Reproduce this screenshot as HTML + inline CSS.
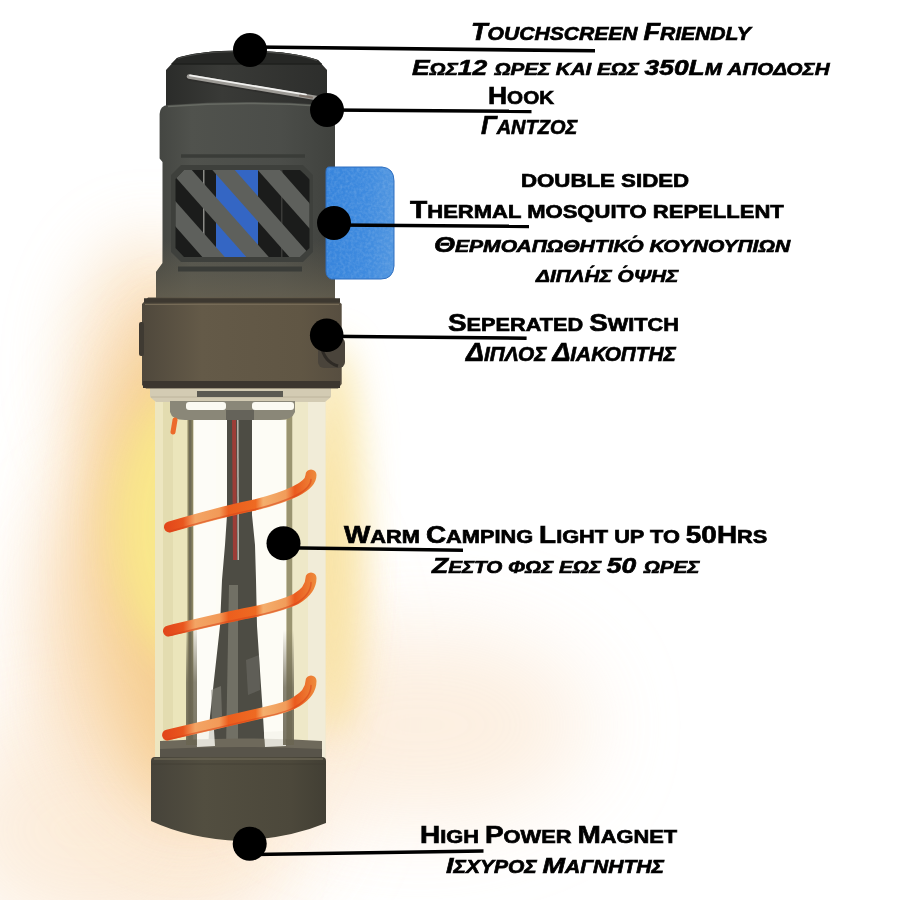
<!DOCTYPE html>
<html><head><meta charset="utf-8">
<style>
html,body{margin:0;padding:0;background:#fff;}
body{width:900px;height:900px;position:relative;overflow:hidden;font-family:"Liberation Sans",sans-serif;}
.t{position:absolute;white-space:nowrap;font-weight:bold;color:#000;line-height:1;transform-origin:0 0;-webkit-text-stroke:0.65px #000;}
.i{font-style:italic;}
.s{font-size:0.78em;}
.acc{position:relative;}
.acc::after{content:"\00B4";position:absolute;left:0.3em;top:0.03em;font-size:0.8em;font-style:normal;}
svg{position:absolute;left:0;top:0;}
</style></head>
<body>
<svg width="900" height="900" viewBox="0 0 900 900">
<defs>
  <filter id="b45" x="-60%" y="-60%" width="220%" height="220%"><feGaussianBlur stdDeviation="45"/></filter>
  <filter id="b28" x="-60%" y="-60%" width="220%" height="220%"><feGaussianBlur stdDeviation="28"/></filter>
  <filter id="b20" x="-60%" y="-60%" width="220%" height="220%"><feGaussianBlur stdDeviation="20"/></filter>
  <filter id="b18" x="-60%" y="-60%" width="220%" height="220%"><feGaussianBlur stdDeviation="18"/></filter>
  <filter id="b35" x="-60%" y="-60%" width="220%" height="220%"><feGaussianBlur stdDeviation="35"/></filter>
  <filter id="b22" x="-60%" y="-60%" width="220%" height="220%"><feGaussianBlur stdDeviation="22"/></filter>
  <filter id="b12" x="-60%" y="-60%" width="220%" height="220%"><feGaussianBlur stdDeviation="12"/></filter>
  <filter id="b1"><feGaussianBlur stdDeviation="0.8"/></filter>
  <linearGradient id="capG" x1="0" x2="1"><stop offset="0" stop-color="#2b2c2a"/><stop offset="0.35" stop-color="#393a37"/><stop offset="1" stop-color="#2d2e2c"/></linearGradient>
  <linearGradient id="bodyG" x1="0" x2="1"><stop offset="0" stop-color="#434541"/><stop offset="0.2" stop-color="#50524d"/><stop offset="0.7" stop-color="#4b4d49"/><stop offset="1" stop-color="#40423e"/></linearGradient>
  <linearGradient id="ringG" x1="0" x2="1"><stop offset="0" stop-color="#4f483c"/><stop offset="0.3" stop-color="#645a48"/><stop offset="0.8" stop-color="#605644"/><stop offset="1" stop-color="#574e40"/></linearGradient>
  <linearGradient id="baseG" x1="0" x2="1"><stop offset="0" stop-color="#46433a"/><stop offset="0.3" stop-color="#524e40"/><stop offset="0.8" stop-color="#4c483b"/><stop offset="1" stop-color="#423f34"/></linearGradient>
  <linearGradient id="rodG" x1="0" x2="1"><stop offset="0" stop-color="#5b5b55"/><stop offset="0.35" stop-color="#7a7a72"/><stop offset="0.5" stop-color="#56564f"/><stop offset="1" stop-color="#4a4a44"/></linearGradient>
  <linearGradient id="wireG" x1="0" y1="0" x2="0" y2="1"><stop offset="0" stop-color="#e8e8e8"/><stop offset="0.5" stop-color="#a9a9a9"/><stop offset="1" stop-color="#555"/></linearGradient>
  <clipPath id="ventClip"><path d="M175.5 179 L184 170 L300 170 L309.5 179 L309.5 248 L300 257 L184 257 L175.5 248 Z"/></clipPath>
</defs>
<!-- glow -->
<ellipse cx="150" cy="640" rx="60" ry="170" fill="#f4c07c" opacity="0.55" filter="url(#b28)"/>
<ellipse cx="150" cy="370" rx="75" ry="130" fill="#f8d9b0" opacity="0.7" filter="url(#b35)"/>
<ellipse cx="185" cy="700" rx="160" ry="230" fill="#fbe6cf" opacity="0.85" filter="url(#b45)"/>
<ellipse cx="90" cy="830" rx="150" ry="110" fill="#fcebd8" opacity="0.8" filter="url(#b45)"/>
<ellipse cx="420" cy="725" rx="170" ry="95" fill="#fcebd9" opacity="0.8" filter="url(#b45)"/>
<ellipse cx="185" cy="575" rx="135" ry="250" fill="#f9ddb5" opacity="0.8" filter="url(#b35)"/>
<ellipse cx="200" cy="550" rx="100" ry="250" fill="#f5cb8c" opacity="0.85" filter="url(#b28)"/>
<ellipse cx="212" cy="525" rx="98" ry="150" fill="#f9e98a" opacity="0.95" filter="url(#b20)"/>
<ellipse cx="335" cy="540" rx="30" ry="200" fill="#f8e29c" opacity="0.8" filter="url(#b18)"/>
<!-- top cap -->
<path d="M166 110 L166 70 L177 58 Q200 50.5 240 50.5 Q292 50.5 318 60 L327 70 L327 110 Z" fill="url(#capG)"/>
<path d="M177 58 Q200 50.5 240 50.5 Q292 50.5 318 60 L322 64 L171 64 Z" fill="#262725"/>
<path d="M178 58.5 Q200 51.5 240 51.5 Q292 51.5 317 60.5" stroke="#4a4b48" stroke-width="1.2" fill="none"/>
<path d="M172 64 L321.5 64" stroke="#1f201e" stroke-width="1.5"/>
<!-- hook wire -->
<path d="M189 77.2 L318 98.8" stroke="#2e2e2c" stroke-width="6.5" stroke-linecap="round"/>
<path d="M189 76.6 L318 98.2" stroke="#9d9b96" stroke-width="4.6" stroke-linecap="round"/>
<path d="M190 75.4 L306 94.6" stroke="#f3f3f1" stroke-width="1.8" stroke-linecap="round"/>
<path d="M300 95.5 L312 97.5" stroke="#6a5a50" stroke-width="2" stroke-linecap="round" opacity="0.6"/>
<!-- upper body -->
<path d="M156 302 L156 272 L162.5 263 L162.5 162 L159.6 158.5 L159.6 114 Q160 105.5 168 105 Q247 99 326 105 Q334.5 105.5 335 114 L335 302 Z" fill="url(#bodyG)"/>
<path d="M168 106.5 Q247 100.5 326 106.5" stroke="#676a63" stroke-width="1.5" fill="none"/>
<defs><linearGradient id="warmG" x1="0" y1="0" x2="0" y2="1"><stop offset="0" stop-color="#6b6452" stop-opacity="0"/><stop offset="1" stop-color="#6b6452" stop-opacity="0.75"/></linearGradient></defs>
<path d="M156 302 L156 272 L162.5 263 L162.5 240 L335 240 L335 302 Z" fill="url(#warmG)"/>
<!-- grooves -->
<path d="M181 156 L305 156" stroke="#3a3c38" stroke-width="3.5"/>
<path d="M178 269 L302 269" stroke="#3a3c38" stroke-width="5"/>
<!-- vent window -->
<path d="M171 175 L181 165 L303 165 L313 175 L313 252 L303 262 L181 262 L171 252 Z" fill="#3e403c"/>
<path d="M175.5 179 L184 170 L300 170 L309.5 179 L309.5 248 L300 257 L184 257 L175.5 248 Z" fill="#1b1c1b"/>
<g clip-path="url(#ventClip)">
  <rect x="216" y="165" width="42" height="95" fill="#3466c4"/>
  <rect x="203" y="165" width="1.5" height="95" fill="#8a8a86"/>
  <rect x="281" y="165" width="1.5" height="95" fill="#3a3a38"/>
  <g stroke="#5e605c" stroke-width="16.8">
    <path d="M47.0 68.8 L247.0 294.8"/>
    <path d="M91.0 68.8 L291.0 294.8"/>
    <path d="M134.0 68.8 L334.0 294.8"/>
    <path d="M179.4 68.8 L379.4 294.8"/>
    <path d="M223.0 68.8 L423.0 294.8"/>
  </g>
</g>
<!-- blue pad -->
<defs>
<linearGradient id="padG" x1="0" x2="1"><stop offset="0" stop-color="#3684dc"/><stop offset="0.6" stop-color="#3f8bdf"/><stop offset="1" stop-color="#5196e0"/></linearGradient>
<filter id="noise" x="0" y="0" width="100%" height="100%"><feTurbulence type="fractalNoise" baseFrequency="0.35" numOctaves="2" seed="3"/><feColorMatrix type="matrix" values="0 0 0 0 1  0 0 0 0 1  0 0 0 0 1  0 0 0 0.9 -0.3"/></filter>
<clipPath id="padClip"><path d="M329 167 L382 167 Q394 168 394 181 L394 266 Q393 279 381 279 L331 279 Q326 277 326 271 L326 172 Q326 167 329 167 Z"/></clipPath>
</defs>
<path d="M329 167 L382 167 Q394 168 394 181 L394 266 Q393 279 381 279 L331 279 Q326 277 326 271 L326 172 Q326 167 329 167 Z" fill="url(#padG)"/>
<rect x="320" y="160" width="80" height="125" filter="url(#noise)" clip-path="url(#padClip)" opacity="0.28"/>
<path d="M329 167 L382 167 Q394 168 394 181 L394 266 Q393 279 381 279 L331 279 Q326 277 326 271 L326 172 Q326 167 329 167 Z" fill="none" stroke="#2f6fc0" stroke-width="1"/>
<!-- glass tube -->
<g>
  <rect x="155" y="386" width="170.5" height="372" fill="#ebe5c4"/>
  <rect x="155" y="386" width="8" height="372" fill="#ede6c0"/><rect x="163" y="400" width="10" height="358" fill="#e3dcb0"/>
  <rect x="173" y="400" width="15" height="358" fill="#ebe5bb"/>
  <rect x="187.5" y="400" width="6" height="358" fill="#8a8462"/>
  <rect x="189" y="420" width="2.5" height="330" fill="#6e6a55"/>
  <rect x="193.5" y="420" width="34" height="330" fill="#fdfcf5"/>
  <rect x="250" y="420" width="36.5" height="330" fill="#fdfcf5"/>
  <rect x="286.5" y="400" width="6" height="358" fill="#9a9470"/>
  <rect x="292.5" y="400" width="15.5" height="358" fill="#eee8c8"/>
  <rect x="308" y="386" width="17.5" height="372" fill="#f1ecd8"/>
  <!-- central rod -->
  <rect x="196" y="420" width="20" height="330" fill="#fdfcf7"/>
  <path d="M227 412 L252 412 L252 515 L255 545 L256 580 L257 626 L263 716 L265 750 L208 750 L210 716 L220 626 L222 580 L225 545 L227 515 Z" fill="#4d4c44"/>
  <path d="M229 585 L238 585 L238 750 L226 750 Z" fill="#8a887c" opacity="0.6"/>
  <path d="M211 690 L221 686 L222 716 L212 720 Z" fill="#8c8a80" opacity="0.5"/>
  <path d="M246 660 L259 655 L260 690 L248 695 Z" fill="#6d6b64" opacity="0.6"/>
  <path d="M232 412 L236 412 L237 560 L233 560 Z" fill="#b23a34" opacity="0.8"/>
  <path d="M237 412 L238.5 412 L239 560 L237.5 560 Z" fill="#e8e4dc" opacity="0.7"/>
  <!-- top collar -->
  <path d="M150 388 L331 388 L331 397 L325 402 L156 402 L150 397 Z" fill="#d3cbb3"/>
  <path d="M151 397 L330 397" stroke="#bdb49c" stroke-width="1"/>
  <rect x="197" y="391" width="86" height="6" fill="#5c5a52"/>
  <path d="M170 401 L295 401 L295 412 Q292 420 280 420 L185 420 Q172 420 170 412 Z" fill="#8a8778"/>
  <rect x="186" y="402" width="40" height="8" rx="3" fill="#fbfaf2"/>
  <rect x="252" y="402" width="42" height="8" rx="3" fill="#fbfaf2"/>
  <rect x="226" y="410" width="28" height="10" fill="#65635a"/>
  <!-- bottom inner ring -->
  <path d="M160 741 Q240 736 322 741 L322 758 L160 758 Z" fill="#6e695b"/>
  <path d="M160 749 Q240 745 322 749 L322 758 L160 758 Z" fill="#58544a"/>
  <path d="M196 731 L214 730 L215 746 L197 747 Z" fill="#f6f4ec" opacity="0.85"/>
  <path d="M264 732 L285 731 L286 746 L265 747 Z" fill="#f6f4ec" opacity="0.85"/>
  <defs><linearGradient id="fadeD" x1="0" y1="0" x2="0" y2="1"><stop offset="0" stop-color="#6a6552" stop-opacity="0"/><stop offset="0.5" stop-color="#6a6552" stop-opacity="0.8"/><stop offset="1" stop-color="#6a6552" stop-opacity="0.9"/></linearGradient></defs>
  <rect x="186" y="620" width="11" height="125" fill="url(#fadeD)"/>
  <rect x="283" y="630" width="11" height="115" fill="url(#fadeD)"/>
</g>
<!-- switch ring -->
<path d="M142 385 L142 304 L148 297.5 L334 297.5 L341.7 304 L341.7 384 L338 388.5 L146 388.5 Z" fill="url(#ringG)"/>
<path d="M144 300.5 L340 300.5" stroke="#3d3830" stroke-width="4.5"/>
<path d="M145 304.5 L339 304.5" stroke="#766b57" stroke-width="1.2"/>
<path d="M143 384.5 L340 384.5" stroke="#3c362f" stroke-width="7"/>
<rect x="139" y="322" width="5" height="34" rx="2" fill="#3f3a32"/>
<rect x="318" y="337" width="27" height="31" rx="6" fill="#4a443b"/>
<path d="M321 345 Q324 362 338 366" stroke="#2e2a25" stroke-width="3" fill="none"/>
<!-- spiral -->
<defs>
<linearGradient id="bandG" gradientUnits="userSpaceOnUse" x1="165" y1="0" x2="316" y2="0">
<stop offset="0" stop-color="#e2461a"/><stop offset="0.12" stop-color="#e9561e"/><stop offset="0.2" stop-color="#f3a464"/><stop offset="0.36" stop-color="#f29a58"/><stop offset="0.42" stop-color="#ec5e1e"/><stop offset="0.6" stop-color="#ee6a22"/><stop offset="0.65" stop-color="#f4ae6c"/><stop offset="0.8" stop-color="#f19c5a"/><stop offset="0.86" stop-color="#ea5a1e"/><stop offset="1" stop-color="#ee8a3c"/>
</linearGradient>
</defs>
<g fill="none" stroke-linecap="round">
  <g stroke="url(#bandG)" stroke-width="11">
    <path d="M169.5 527 C190 521 230 510 255 505 C275 500 288 495 296 491 C306 486 311 481 311 475"/>
    <path d="M168.5 631 C190 626 230 616 258 611 C275 607 288 603 296 599 C306 593 311 586 311 578"/>
    <path d="M167.6 735 C190 730 240 718 266 712 C280 709 290 706 296 702 C306 696 311 689 311 681"/>
  </g>
  <g stroke="#d8421a" stroke-width="1.5" opacity="0.55">
    <path d="M169.5 527 C190 521 230 510 255 505 C275 500 288 495 296 491 C306 486 311 481 311 475" transform="translate(0 4.5)"/>
    <path d="M168.5 631 C190 626 230 616 258 611 C275 607 288 603 296 599 C306 593 311 586 311 578" transform="translate(0 4.5)"/>
    <path d="M167.6 735 C190 730 240 718 266 712 C280 709 290 706 296 702 C306 696 311 689 311 681" transform="translate(0 4.5)"/>
  </g>
  <path d="M175 420 L173 432" stroke="#ec6a2a" stroke-width="5"/>
</g>
<!-- base -->
<path d="M151 761 Q151 757 155 757 L322 757 Q326 757 326 761 L326 823 Q290 838 240 841 Q190 839 151 821 Z" fill="url(#baseG)"/>
<path d="M154 759 L323 759" stroke="#6a6553" stroke-width="1.4"/>
<path d="M152 764 L325 764" stroke="#3e3b31" stroke-width="1" opacity="0.6"/>
<!-- dots and lines -->
<g fill="#000">
  <circle cx="250" cy="50" r="17"/>
  <circle cx="327" cy="110" r="17"/>
  <circle cx="334" cy="223" r="17"/>
  <circle cx="326.7" cy="335.3" r="16.8"/>
  <circle cx="283.5" cy="543.3" r="17"/>
  <circle cx="249.7" cy="843.7" r="17"/>
</g>
<g stroke="#000" stroke-width="3.6" fill="none">
  <path d="M250 47 L595 50.8"/>
  <path d="M327 110 L531.5 111.4"/>
  <path d="M334 225 L529 226.4"/>
  <path d="M327 336.3 L526.6 338.2"/>
  <path d="M284 547.8 L463 550.2"/>
  <path d="M250 854.6 L483.5 851"/>
</g>
</svg>

<div class="t i" style="left:471.0px;top:21px;transform:scaleX(1.1758);font-size:23px;">T<span class="s">OUCHSCREEN </span>F<span class="s">RIENDLY</span></div>
<div class="t i" style="left:412.3px;top:57px;transform:scaleX(1.1986);font-size:22px;">Ε<span class="s">ΩΣ</span>12 <span class="s">ΩΡΕΣ ΚΑΙ ΕΩΣ </span>350L<span class="s">M ΑΠΟΔΟΣΗ</span></div>
<div class="t" style="left:487.8px;top:84px;transform:scaleX(1.1019);font-size:24px;">H<span class="s">OOK</span></div>
<div class="t i" style="left:480.8px;top:112px;transform:scaleX(0.9863);font-size:26px;">Γ<span class="s">ΑΝΤΖΟΣ</span></div>
<div class="t" style="left:520.8px;top:168px;transform:scaleX(1.2402);font-size:23px;"><span class="s">DOUBLE SIDED</span></div>
<div class="t" style="left:410.0px;top:199px;transform:scaleX(1.2279);font-size:23px;">T<span class="s">HERMAL MOSQUITO REPELLENT</span></div>
<div class="t i" style="left:434.3px;top:234px;transform:scaleX(1.2272);font-size:22px;">Θ<span class="s">ΕΡΜΟΑΠΩΘΗΤΙΚ<span class="acc">Ο</span> ΚΟΥΝΟΥΠΙΩΝ</span></div>
<div class="t i" style="left:536.3px;top:263.5px;transform:scaleX(1.2105);font-size:22px;"><span class="s">ΔΙΠΛ<span class="acc">Η</span>Σ <span class="acc">Ο</span>ΨΗΣ</span></div>
<div class="t" style="left:448.0px;top:312px;transform:scaleX(1.2103);font-size:23px;">S<span class="s">EPERATED </span>S<span class="s">WITCH</span></div>
<div class="t i" style="left:465.56px;top:340px;transform:scaleX(1.0676);font-size:25px;">Δ<span class="s">ΙΠΛΟΣ </span>Δ<span class="s">ΙΑΚΟΠΤΗΣ</span></div>
<div class="t" style="left:343.52px;top:524px;transform:scaleX(1.2124);font-size:23px;">W<span class="s">ARM </span>C<span class="s">AMPING </span>L<span class="s">IGHT UP TO </span>50H<span class="s">RS</span></div>
<div class="t i" style="left:431.5px;top:554.5px;transform:scaleX(1.2024);font-size:22px;">Ζ<span class="s">ΕΣΤΟ ΦΩΣ ΕΩΣ </span>50 <span class="s">ΩΡΕΣ</span></div>
<div class="t" style="left:420.24px;top:824px;transform:scaleX(1.2147);font-size:23px;">H<span class="s">IGH </span>P<span class="s">OWER </span>M<span class="s">AGNET</span></div>
<div class="t i" style="left:446.48px;top:853.5px;transform:scaleX(1.172);font-size:23px;">Ι<span class="s">ΣΧΥΡΟΣ </span>Μ<span class="s">ΑΓΝΗΤΗΣ</span></div>
</body></html>
